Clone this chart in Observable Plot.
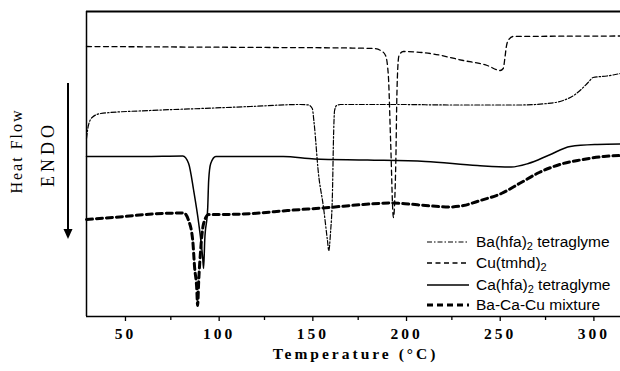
<!DOCTYPE html>
<html>
<head>
<meta charset="utf-8">
<script src="https://cdn.jsdelivr.net/npm/d3@7"></script>
<script src="https://cdn.jsdelivr.net/npm/@observablehq/plot@0.6"></script>
<style>
  body { margin: 0; background: #fff; }
  #wrap { position: relative; width: 620px; height: 371px; overflow: hidden; }
  #wrap svg.chart { display: block; }
  .chart g[aria-label="x-axis tick label"] text {
    font-family: "Liberation Serif", "DejaVu Serif", serif;
    font-weight: bold; font-size: 15.5px; letter-spacing: 3px;
  }
  .chart .xlabel text {
    font-family: "Liberation Serif", "DejaVu Serif", serif;
    font-weight: bold; font-size: 15.5px; letter-spacing: 3px;
  }
  .legrow { position: absolute; left: 427px; height: 20px; display: flex; align-items: center;
    font-family: "Liberation Sans", Arial, sans-serif; font-size: 15.5px; color: #000; white-space: nowrap; }
  .legrow svg { width: 42px; height: 8px; margin-right: 7px; }
  .legrow sub { font-size: 11px; vertical-align: -3px; line-height: 0; }
</style>
</head>
<body>
<div id="wrap"></div>
<script>
// Temperature (°C) and heat flow (arbitrary units, endothermic = downward)
const baT  = [30, 31, 33, 37.6, 64, 91, 117.6, 144, 148.5, 150.5, 151.5, 153.8, 156.5, 158.6, 159.3, 160.2, 161.3, 161.8, 162.4, 163.5, 165.5, 197.6, 224, 261, 275.8, 284.4, 290, 293.4, 297.7, 300.4, 307.8, 315];
const baHF = [178, 191, 199, 203, 206, 208, 210, 212, 211.5, 208, 193, 143, 109, 76, 66, 83, 126, 176, 206, 211, 212, 212, 211.5, 211.5, 213, 216, 221, 226, 234, 239, 240.5, 243];

const cuT  = [30, 80, 130, 170, 183, 187, 189.6, 191.1, 192.3, 193.8, 195.1, 195.6, 196.2, 196.8, 199.1, 213.5, 231.1, 243.9, 250.8, 252.4, 253.4, 254, 255, 257.7, 315];
const cuHF = [270, 269.5, 269, 268.5, 268, 266, 261, 241, 176, 99, 156, 216, 251, 261, 265, 263, 256, 251, 246, 248, 260, 269, 276, 280, 280.5];

const caT  = [30, 60, 81.4, 84.5, 87.2, 89.9, 92, 92.5, 93.1, 94.7, 95.2, 96.3, 99, 135, 151.7, 180, 210.9, 238.6, 256.7, 265.8, 277, 288.2, 302.6, 315];
const caHF = [160, 160, 160.5, 153, 126, 93, 59, 48, 76, 109, 136, 153, 160, 160, 157.5, 156.5, 155, 151, 149.5, 153, 161.5, 170, 172, 172.5];

const mixT  = [30, 50, 65, 81.9, 84.5, 86.7, 87.7, 88.8, 89.3, 89.9, 90.9, 92.5, 95.2, 100.6, 118.7, 137.3, 159.2, 177.8, 192.2, 201.8, 210.9, 223.7, 231.2, 240.2, 251.4, 262, 271.6, 284.4, 293.4, 306.2, 315];
const mixHF = [97, 100, 102.5, 103.5, 96, 76, 49, 29, 11, 36, 66, 93, 102, 102, 103, 106, 109, 112, 113.5, 112.5, 111, 109.5, 111, 116, 123, 134, 144, 153, 156.5, 160, 161];

const xDomain = [30, 315];
const yDomain = [0, 305];
const majorTicks = [50, 100, 150, 200, 250, 300];
const minorTicks = [75, 125, 175, 225, 275];
const xLabel = "Temperature (°C)";

const series = (T, hf) => T.map((t, i) => ({T: t, hf: hf[i]}));

const chart = Plot.plot({
  width: 620,
  height: 371,
  marginLeft: 86,
  marginRight: 0,
  marginTop: 11,
  marginBottom: 55,
  className: "chart",
  style: {background: "white", color: "black"},
  x: {domain: xDomain},
  y: {domain: yDomain, axis: null},
  marks: [
    Plot.line(series(baT, baHF), {x: "T", y: "hf", stroke: "black", strokeWidth: 1.2, strokeDasharray: "5,2,1.5,2", curve: "monotone-x"}),
    Plot.line(series(cuT, cuHF), {x: "T", y: "hf", stroke: "black", strokeWidth: 1.3, strokeDasharray: "5,3.5", curve: "monotone-x"}),
    Plot.line(series(caT, caHF), {x: "T", y: "hf", stroke: "black", strokeWidth: 1.5, curve: "monotone-x"}),
    Plot.line(series(mixT, mixHF), {x: "T", y: "hf", stroke: "black", strokeWidth: 3, strokeDasharray: "6,4", curve: "monotone-x"}),
    Plot.ruleY([yDomain[1]], {stroke: "black", strokeWidth: 2}),
    Plot.ruleY([yDomain[0]], {stroke: "black", strokeWidth: 1.5}),
    Plot.ruleX([xDomain[0]], {stroke: "black", strokeWidth: 1.5}),
    Plot.axisX({ticks: majorTicks, tickSize: 5, tickPadding: 6, tickFormat: d => String(d), dx: 1.5, label: null, strokeWidth: 1.3}),
    Plot.axisX({ticks: minorTicks, tickSize: 4, tickFormat: () => "", label: null, strokeWidth: 1.3}),
    Plot.text([xLabel], {frameAnchor: "bottom", dy: 42, dx: 2, className: "xlabel", fill: "black"})
  ]
});

const wrap = document.getElementById("wrap");
wrap.appendChild(chart);

// Y-axis annotation: "Heat Flow", "ENDO" and downward arrow
const ns = "http://www.w3.org/2000/svg";
const ov = document.createElementNS(ns, "svg");
ov.setAttribute("width", 85); ov.setAttribute("height", 371);
ov.style.position = "absolute"; ov.style.left = "0px"; ov.style.top = "0px";
ov.innerHTML = `
  <text transform="translate(22,151) rotate(-90)" text-anchor="middle" font-family="Liberation Serif, DejaVu Serif, serif" font-size="16" letter-spacing="2">Heat Flow</text>
  <text transform="translate(54,154) rotate(-90)" text-anchor="middle" font-family="Liberation Serif, DejaVu Serif, serif" font-size="18" letter-spacing="4">ENDO</text>
  <line x1="68" y1="83" x2="68" y2="230" stroke="black" stroke-width="2"/>
  <polygon points="63.5,229 72.5,229 68,239" fill="black"/>
`;
wrap.appendChild(ov);

// Legend
const legend = [
  {top: 232, label: 'Ba(hfa)<sub>2</sub> tetraglyme', dash: "5,2,1.5,2", w: 1.2},
  {top: 253, label: 'Cu(tmhd)<sub>2</sub>', dash: "5,3.5", w: 1.3},
  {top: 275, label: 'Ca(hfa)<sub>2</sub> tetraglyme', dash: null, w: 1.5},
  {top: 295, label: 'Ba-Ca-Cu mixture', dash: "6,4", w: 3}
];
legend.forEach(r => {
  const row = document.createElement("div");
  row.className = "legrow";
  row.style.top = r.top + "px";
  row.innerHTML = `<svg viewBox="0 0 42 8"><line x1="0" y1="4" x2="42" y2="4" stroke="black" stroke-width="${r.w}" ${r.dash ? `stroke-dasharray="${r.dash}"` : ""}/></svg><span>${r.label}</span>`;
  wrap.appendChild(row);
});
</script>
</body>
</html>
